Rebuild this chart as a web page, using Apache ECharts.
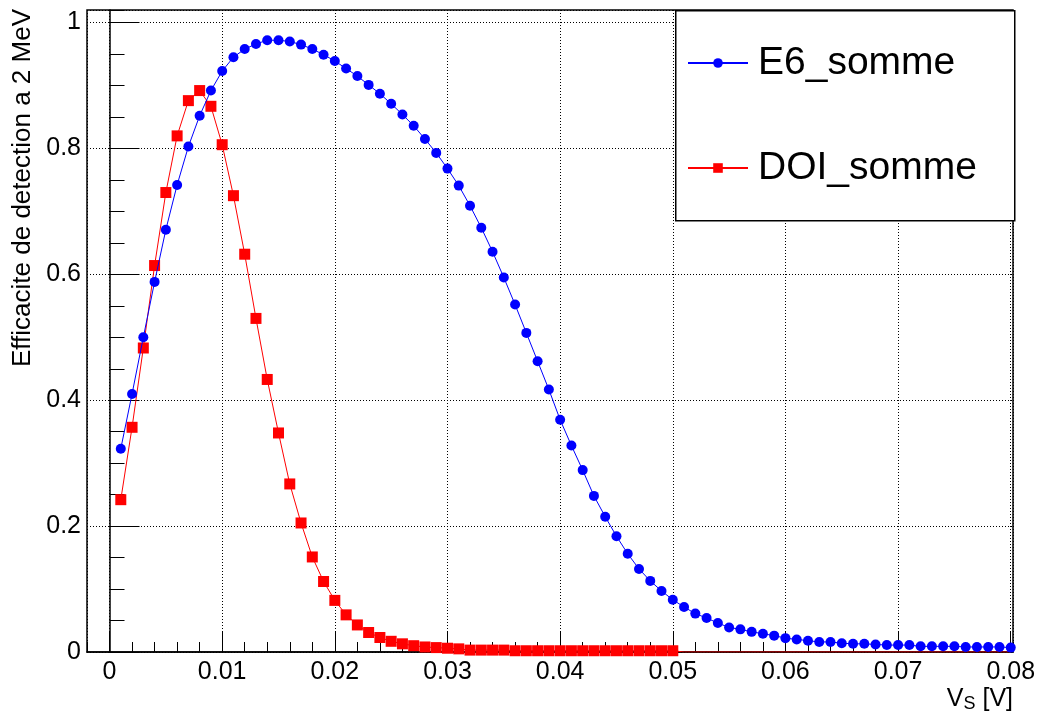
<!DOCTYPE html>
<html><head><meta charset="utf-8">
<script src="https://cdn.jsdelivr.net/npm/echarts@6/dist/echarts.min.js"></script>
<style>html,body{margin:0;padding:0;background:#fff}#c{width:1040px;height:720px}</style>
</head><body><div id="c"></div>
<script>
// Sampled threshold voltages V_S [V]
const xValues = [
  0.001,0.002,0.003,0.004,0.005,0.006,0.007,0.008,0.009,0.010,
  0.011,0.012,0.013,0.014,0.015,0.016,0.017,0.018,0.019,0.020,
  0.021,0.022,0.023,0.024,0.025,0.026,0.027,0.028,0.029,0.030,
  0.031,0.032,0.033,0.034,0.035,0.036,0.037,0.038,0.039,0.040,
  0.041,0.042,0.043,0.044,0.045,0.046,0.047,0.048,0.049,0.050,
  0.051,0.052,0.053,0.054,0.055,0.056,0.057,0.058,0.059,0.060,
  0.061,0.062,0.063,0.064,0.065,0.066,0.067,0.068,0.069,0.070,
  0.071,0.072,0.073,0.074,0.075,0.076,0.077,0.078,0.079,0.080
];
// E6_somme efficiency
const e6Somme = [
  0.323,0.410,0.500,0.588,0.671,0.742,0.803,0.852,0.892,0.923,
  0.945,0.958,0.966,0.972,0.972,0.970,0.965,0.958,0.949,0.939,
  0.927,0.915,0.901,0.887,0.871,0.854,0.836,0.815,0.793,0.768,
  0.741,0.709,0.674,0.636,0.595,0.552,0.507,0.462,0.417,0.369,
  0.328,0.289,0.248,0.215,0.184,0.156,0.132,0.113,0.097,0.083,
  0.0715,0.061,0.054,0.046,0.039,0.036,0.032,0.029,0.026,0.022,
  0.020,0.018,0.016,0.016,0.014,0.013,0.013,0.012,0.011,0.011,
  0.011,0.009,0.009,0.009,0.009,0.008,0.008,0.008,0.008,0.007
];
// DOI_somme efficiency
const doiSomme = [
  0.242,0.357,0.483,0.614,0.730,0.820,0.876,0.892,0.867,0.806,
  0.725,0.632,0.530,0.433,0.348,0.267,0.205,0.151,0.112,0.082,
  0.059,0.043,0.031,0.023,0.017,0.013,0.010,0.008,0.007,0.006,
  0.005,0.003,0.003,0.003,0.003,0.002,0.002,0.002,0.002,0.002,
  0.002,0.002,0.002,0.002,0.002,0.002,0.002,0.002,0.002,0.002,
  0,0,0,0,0,0,0,0,0,0,
  0,0,0,0,0,0,0,0,0,0,
  0,0,0,0,0,0,0,0,0,0
];
const seriesNames = ['E6_somme', 'DOI_somme'];
const yTitle = 'Efficacite de detection a 2 MeV';

const FONT = "'Liberation Sans', Arial, Helvetica, sans-serif";
const chart = echarts.init(document.getElementById('c'), null, {renderer: 'canvas'});

const e6Data = xValues.map((x, i) => [x, e6Somme[i]]);
const doiData = xValues.map((x, i) => (doiSomme[i] === 0
  ? {value: [x, doiSomme[i]], symbolSize: 0}
  : {value: [x, doiSomme[i]]}));

const option = {
  animation: false,
  backgroundColor: '#ffffff',
  grid: {left: 87, right: 27, top: 10, bottom: 68, show: true, borderColor: '#000', borderWidth: 1.5,
         backgroundColor: 'transparent', containLabel: false, outerBoundsMode: 'none'},
  graphic: [{
    type: 'rect', left: 675, top: 10, z: 10,
    shape: {width: 339, height: 210},
    style: {fill: '#fff', stroke: '#000', lineWidth: 1.5}
  }],
  legend: {
    data: seriesNames,
    orient: 'vertical',
    left: 675, top: 10,
    padding: [28, 0, 0, 12],
    itemWidth: 60, itemHeight: 12,
    itemGap: 55,
    z: 20,
    selectedMode: false,
    textStyle: {fontFamily: FONT, fontSize: 39, color: '#000', lineHeight: 50, padding: [0, 0, 0, 5]}
  },
  xAxis: [{
    type: 'value', min: -0.002, max: 0.0802, splitNumber: 8,
    axisLine: {show: true, lineStyle: {color: '#000', width: 1.5}},
    axisTick: {show: true, inside: true, length: 20, lineStyle: {color: '#000', width: 1}},
    axisLabel: {show: true, showMinLabel: false, showMaxLabel: false, color: '#000', fontFamily: FONT, fontSize: 25, margin: 8},
    splitLine: {show: true, lineStyle: {color: '#000', width: 1, type: [1, 2]}},
    name: '{v|V}{s|S}{v| [V]}',
    nameLocation: 'end', nameGap: 0, nameMoveOverlap: false,
    nameTextStyle: {
      align: 'right', verticalAlign: 'top', padding: [33, 0, 0, 0],
      rich: {
        v: {fontFamily: FONT, fontSize: 25, color: '#000', lineHeight: 28},
        s: {fontFamily: FONT, fontSize: 18, color: '#000', lineHeight: 12, verticalAlign: 'bottom'}
      }
    }
  }, {
    type: 'value', min: -0.002, max: 0.0802, interval: 0.002,
    axisLine: {show: false},
    axisTick: {show: true, inside: true, length: 10, lineStyle: {color: '#000', width: 1}},
    axisLabel: {show: false},
    splitLine: {show: false},
    position: 'bottom'
  }],
  yAxis: [{
    type: 'value', min: 0, max: 1.02, interval: 0.2,
    axisLine: {show: true, lineStyle: {color: '#000', width: 1.5}},
    axisTick: {show: true, inside: true, length: 30, lineStyle: {color: '#000', width: 1}},
    axisLabel: {show: true, showMaxLabel: false, color: '#000', fontFamily: FONT, fontSize: 25, margin: 6},
    splitLine: {show: true, lineStyle: {color: '#000', width: 1, type: [1, 2]}},
    name: yTitle,
    nameLocation: 'middle', nameGap: 64, nameRotate: 90, nameMoveOverlap: false,
    nameTextStyle: {fontFamily: FONT, fontSize: 26, color: '#000', align: 'center', verticalAlign: 'middle', lineHeight: 30, padding: [0, 0, 0, 286]}
  }, {
    type: 'value', min: 0, max: 1.02, interval: 0.05,
    axisLine: {show: false},
    axisTick: {show: true, inside: true, length: 15, lineStyle: {color: '#000', width: 1}},
    axisLabel: {show: false},
    splitLine: {show: false},
    position: 'left'
  }],
  series: [{
    name: seriesNames[0], type: 'line', data: e6Data,
    xAxisIndex: 0, yAxisIndex: 0,
    symbol: 'circle', symbolSize: 10,
    lineStyle: {color: '#0000ff', width: 1},
    itemStyle: {color: '#0000ff'},
    z: 3
  }, {
    name: seriesNames[1], type: 'line', data: doiData,
    xAxisIndex: 0, yAxisIndex: 0,
    symbol: 'rect', symbolSize: 11,
    lineStyle: {color: '#ff0000', width: 1},
    itemStyle: {color: '#ff0000'},
    z: 2
  }]
};
chart.setOption(option);
</script>
</body></html>
